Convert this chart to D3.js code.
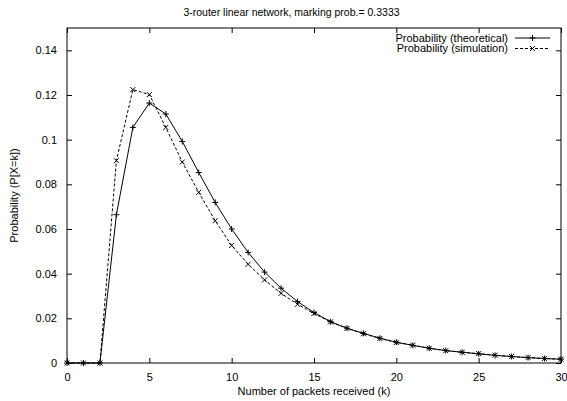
<!DOCTYPE html>
<html>
<head>
<meta charset="utf-8">
<script src="https://cdn.jsdelivr.net/npm/d3@7"></script>
<style>
  body { margin: 0; background: #fff; }
  svg { font-family: "Liberation Sans", Arial, sans-serif; }
  .axis text { font-size: 11px; fill: #000; }
</style>
</head>
<body>
<svg id="chart"></svg>
<script>
// Values
const kValues = d3.range(0, 31);
const theoretical = [0, 0, 0, 0.0664, 0.1055, 0.1164, 0.1115, 0.0992, 0.0853, 0.0719,
  0.0600, 0.0495, 0.0407, 0.0335, 0.0275, 0.0226, 0.0185, 0.0156, 0.0133, 0.0111,
  0.0093, 0.0079, 0.0066, 0.0056, 0.0048, 0.0041, 0.0034, 0.0029, 0.0024, 0.0020, 0.0017];
const simulation = [0, 0, 0, 0.0906, 0.1224, 0.1202, 0.1055, 0.0900, 0.0764, 0.0637,
  0.0526, 0.0442, 0.0372, 0.0312, 0.0263, 0.0222, 0.0184, 0.0155, 0.0131, 0.0110,
  0.0092, 0.0080, 0.0066, 0.0055, 0.0048, 0.0042, 0.0035, 0.0029, 0.0024, 0.0020, 0.0017];
const xTicks = [0, 5, 10, 15, 20, 25, 30];
const yTicks = [0, 0.02, 0.04, 0.06, 0.08, 0.1, 0.12, 0.14];
const legendLabels = ['Probability (theoretical)', 'Probability (simulation)'];

const W = 567, H = 401;
const margin = {top: 28, right: 6, bottom: 38, left: 67};
const width = W - margin.left - margin.right;
const height = H - margin.top - margin.bottom;

const svg = d3.select('#chart').attr('width', W).attr('height', H);
const chart = svg.append('g').attr('transform', `translate(${margin.left},${margin.top})`);

const xScale = d3.scaleLinear().domain([0, 30]).range([0, width]);
const yScale = d3.scaleLinear().domain([0, 0.15]).range([height, 0]);

// Axes: gnuplot-style inward ticks, mirrored on top/right
const tick = 5;
chart.append('g').attr('class', 'axis')
    .attr('transform', `translate(0,${height})`)
    .call(d3.axisBottom(xScale).tickValues(xTicks).tickSize(-tick).tickPadding(tick + 5).tickFormat(d3.format('d')))
    .call(g => g.select('.domain').remove());
chart.append('g').attr('class', 'axis')
    .call(d3.axisTop(xScale).tickValues(xTicks).tickSize(-tick).tickFormat(''))
    .call(g => g.select('.domain').remove());
chart.append('g').attr('class', 'axis')
    .call(d3.axisLeft(yScale).tickValues(yTicks).tickSize(-tick).tickPadding(tick + 5)
      .tickFormat(d => d === 0 ? '0' : String(+d.toFixed(2))))
    .call(g => g.select('.domain').remove());
chart.append('g').attr('class', 'axis')
    .attr('transform', `translate(${width},0)`)
    .call(d3.axisRight(yScale).tickValues(yTicks).tickSize(-tick).tickFormat(''))
    .call(g => g.select('.domain').remove());

chart.append('rect')
    .attr('width', width).attr('height', height)
    .attr('fill', 'none').attr('stroke', '#000').attr('stroke-width', 1);

// Titles
svg.append('text')
    .attr('x', W / 2 + 8).attr('y', 16)
    .attr('text-anchor', 'middle').attr('font-size', 10.5)
    .text('3-router linear network, marking prob.= 0.3333');
svg.append('text')
    .attr('x', margin.left + width / 2).attr('y', 395)
    .attr('text-anchor', 'middle').attr('font-size', 11)
    .text('Number of packets received (k)');
svg.append('text')
    .attr('transform', `translate(18,${margin.top + height / 2}) rotate(-90)`)
    .attr('text-anchor', 'middle').attr('font-size', 11)
    .text('Probability (P[X=k])');

// Lines
const line = d3.line().x((d, i) => xScale(kValues[i])).y(d => yScale(d));
const plot = chart.append('g');
plot.append('path').datum(theoretical)
    .attr('d', line).attr('fill', 'none').attr('stroke', '#000').attr('stroke-width', 1);
plot.append('path').datum(simulation)
    .attr('d', line).attr('fill', 'none').attr('stroke', '#000').attr('stroke-width', 1)
    .attr('stroke-dasharray', '3,2');

const plusPath = s => `M${-s},0H${s}M0,${-s}V${s}`;
const crossPath = s => `M${-s},${-s}L${s},${s}M${-s},${s}L${s},${-s}`;

plot.selectAll('.plus').data(theoretical).join('path')
    .attr('class', 'plus')
    .attr('transform', (d, i) => `translate(${xScale(kValues[i])},${yScale(d)})`)
    .attr('d', plusPath(3)).attr('stroke', '#000').attr('stroke-width', 1);
plot.selectAll('.cross').data(simulation).join('path')
    .attr('class', 'cross')
    .attr('transform', (d, i) => `translate(${xScale(kValues[i])},${yScale(d)})`)
    .attr('d', crossPath(2.5)).attr('stroke', '#000').attr('stroke-width', 1);

// Legend
const legend = svg.append('g');
legendLabels.forEach((label, i) => {
  const y = 38 + i * 10.5;
  legend.append('text')
      .attr('x', 508).attr('y', y).attr('dy', '0.35em')
      .attr('text-anchor', 'end').attr('font-size', 11)
      .text(label);
  legend.append('line')
      .attr('x1', 515).attr('x2', 550).attr('y1', y).attr('y2', y)
      .attr('stroke', '#000').attr('stroke-width', 1)
      .attr('stroke-dasharray', i === 1 ? '3,2' : null);
  legend.append('path')
      .attr('transform', `translate(532.5,${y})`)
      .attr('d', i === 0 ? plusPath(3) : crossPath(2.5))
      .attr('stroke', '#000').attr('stroke-width', 1);
});
</script>
</body>
</html>
